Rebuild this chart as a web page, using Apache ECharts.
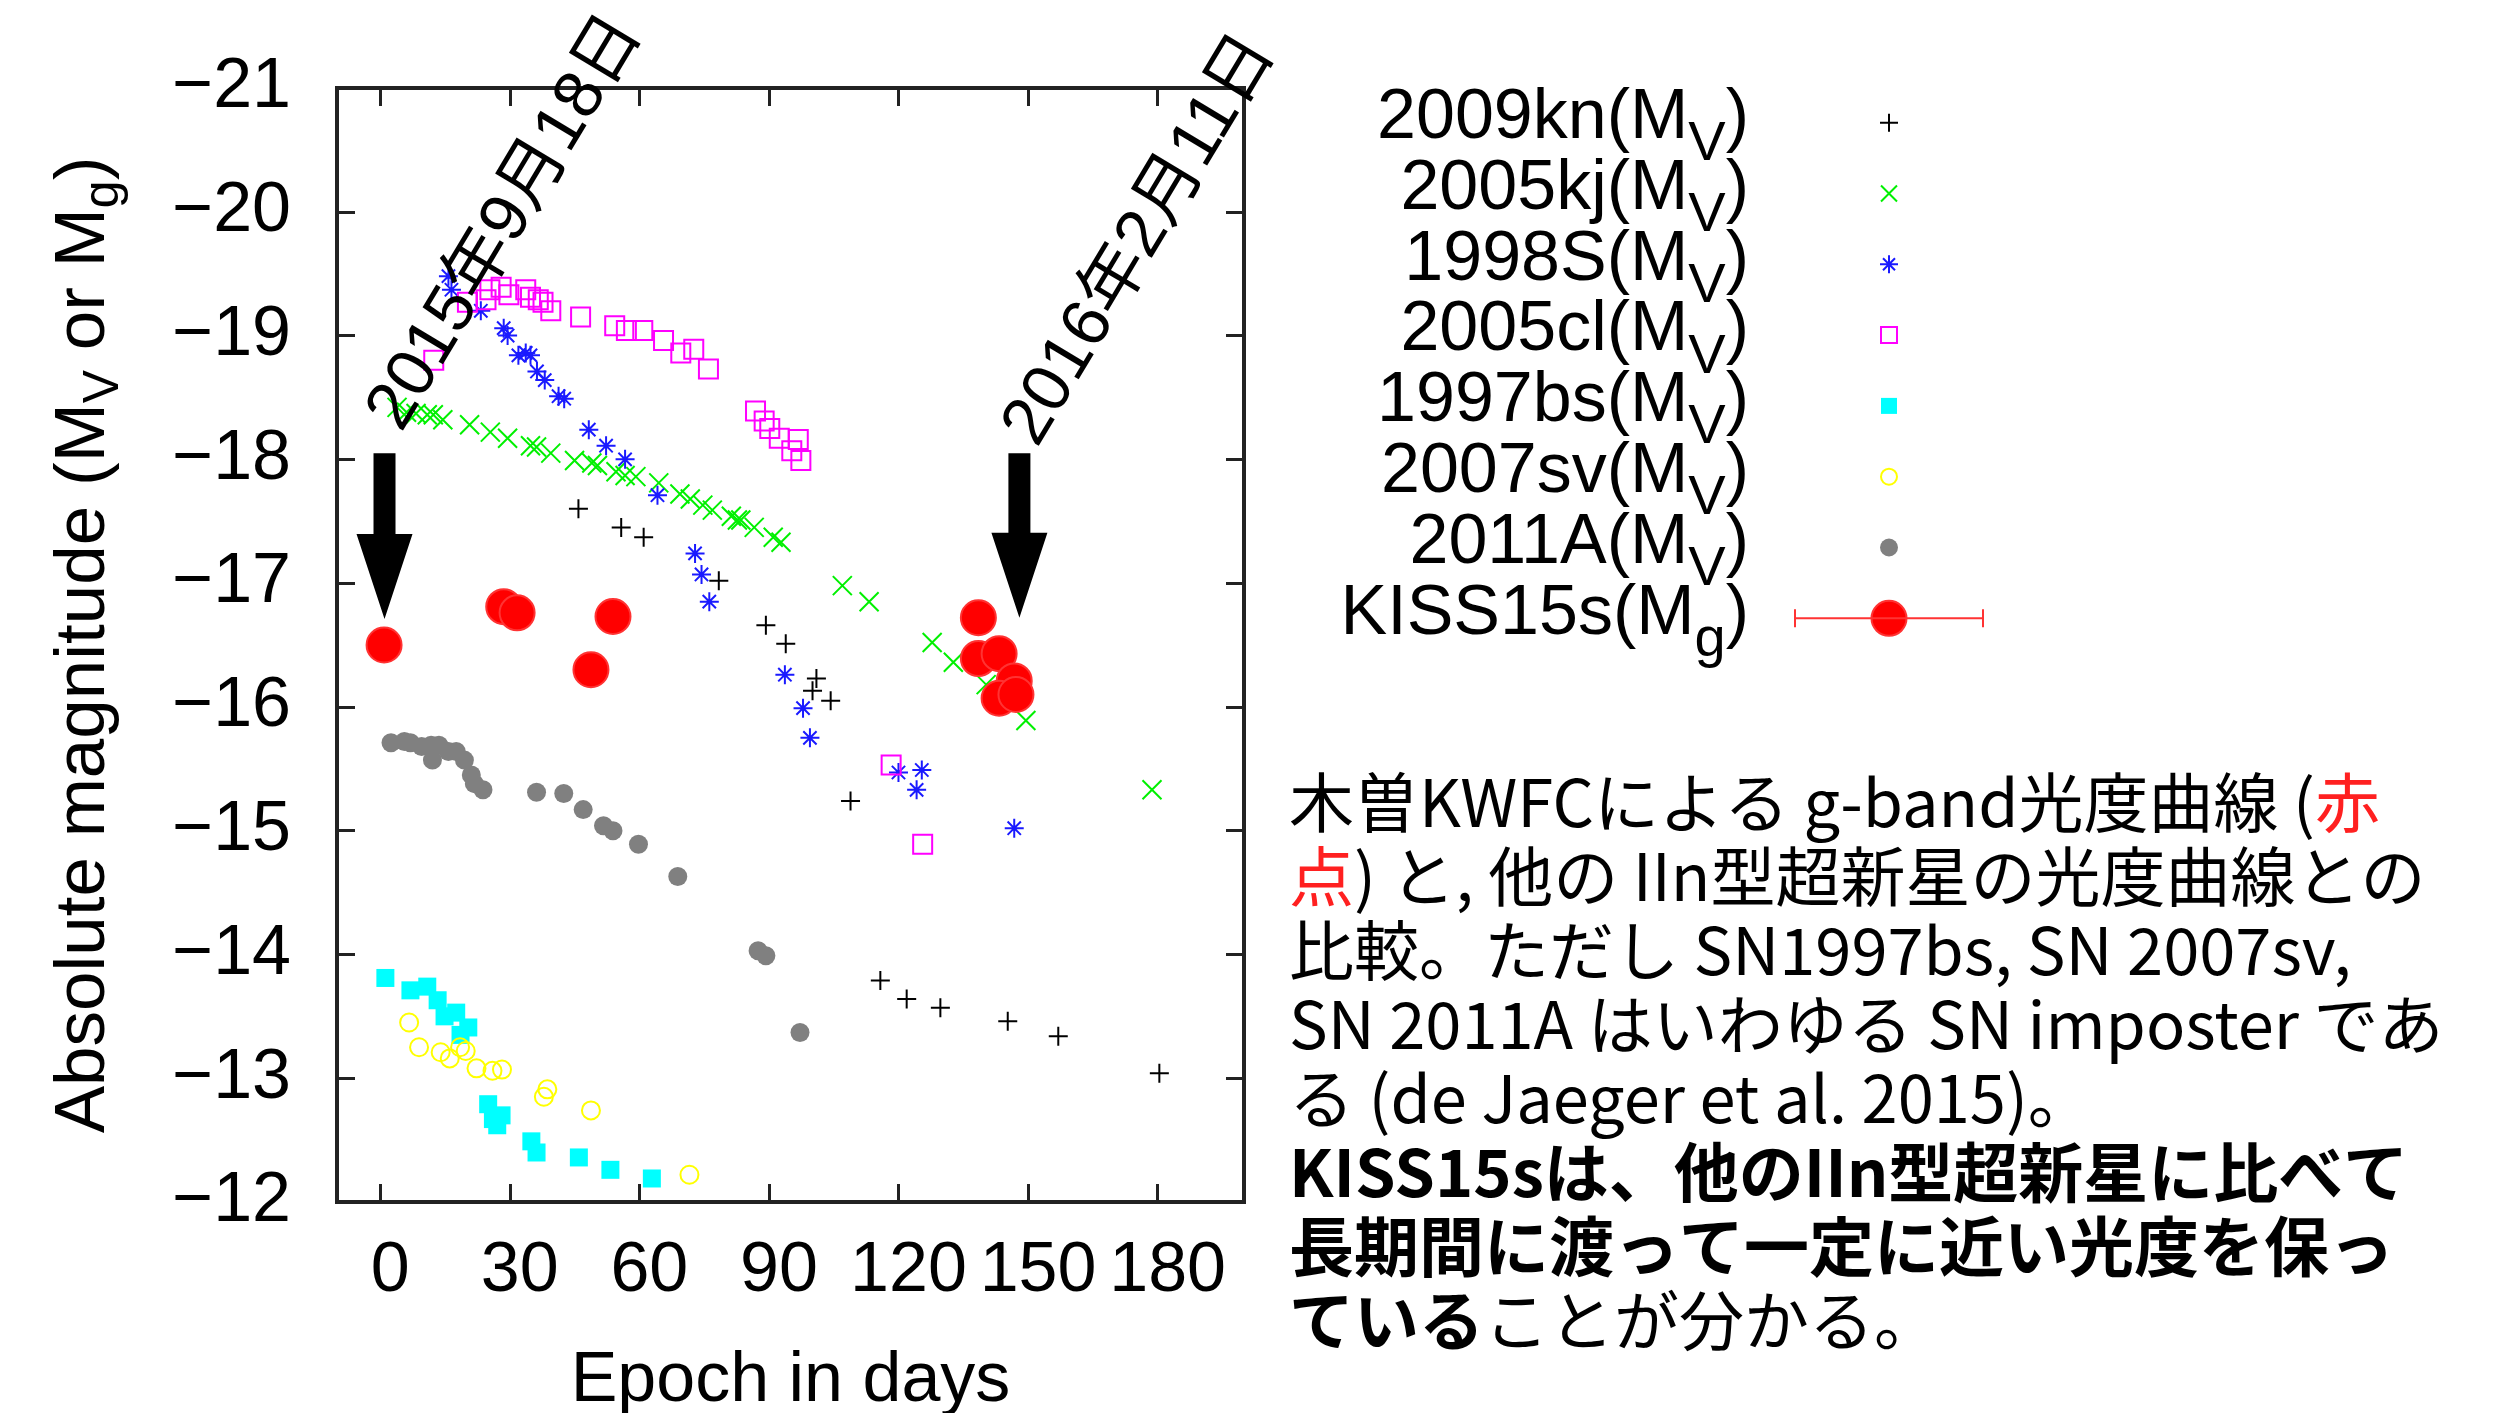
<!DOCTYPE html>
<html><head><meta charset="utf-8">
<script src="https://cdn.jsdelivr.net/npm/echarts@6/dist/echarts.min.js"></script>
<style>html,body{margin:0;padding:0;background:#fff}#c{width:2499px;height:1413px}</style>
</head><body><div id="c"></div>
<script>
// ---------- data (days, absolute magnitude) ----------
const xTicks = [0, 30, 60, 90, 120, 150, 180];

const sn2009kn = [[45.9,-17.60],[55.8,-17.45],[61.0,-17.37],[78.4,-17.02],[89.3,-16.66],[93.9,-16.51],[101.0,-16.23],[100.1,-16.13],[104.3,-16.05],[108.9,-15.24],[115.8,-13.79],[121.9,-13.64],[129.7,-13.57],[145.3,-13.46],[157.0,-13.34],[180.4,-13.04]];

const sn2005kj = [[3.9,-18.42],[6.1,-18.38],[8.3,-18.37],[10.9,-18.36],[12.3,-18.36],[14.5,-18.32],[20.7,-18.28],[25.5,-18.22],[29.5,-18.17],[34.8,-18.11],[36.2,-18.10],[39.5,-18.05],[45.0,-17.99],[49.0,-17.97],[50.3,-17.95],[54.6,-17.90],[56.7,-17.87],[59.2,-17.86],[64.5,-17.81],[69.4,-17.72],[71.8,-17.68],[74.7,-17.63],[76.9,-17.59],[81.3,-17.54],[82.7,-17.51],[83.5,-17.51],[86.6,-17.45],[91.0,-17.37],[92.8,-17.33],[107.0,-16.98],[113.2,-16.85],[127.8,-16.52],[132.7,-16.36],[140.3,-16.18],[149.5,-15.89],[178.7,-15.33]];

const sn1998S = [[15.8,-19.48],[16.5,-19.37],[23.3,-19.20],[28.6,-19.06],[29.5,-19.00],[32.0,-18.84],[33.7,-18.86],[34.8,-18.84],[36.3,-18.71],[38.1,-18.64],[41.3,-18.51],[42.6,-18.49],[48.3,-18.24],[52.3,-18.11],[56.7,-18.00],[64.2,-17.71],[72.9,-17.24],[74.4,-17.07],[76.2,-16.85],[93.7,-16.26],[97.9,-15.99],[99.5,-15.75],[120.0,-15.47],[125.4,-15.49],[124.2,-15.33],[146.8,-15.02]];

const sn2005cl = [[12.4,-18.80],[20.2,-19.27],[24.5,-19.29],[25.4,-19.37],[28.0,-19.39],[29.8,-19.33],[33.7,-19.37],[34.8,-19.31],[36.6,-19.29],[37.7,-19.27],[39.5,-19.20],[46.4,-19.15],[54.3,-19.08],[57.0,-19.04],[60.8,-19.04],[65.6,-18.96],[69.6,-18.86],[72.6,-18.89],[76.0,-18.73],[86.9,-18.39],[88.9,-18.31],[90.2,-18.25],[92.4,-18.17],[95.3,-18.07],[96.8,-18.16],[97.4,-17.99],[118.3,-15.53],[125.6,-14.89]];

const sn1997bs = [[1.2,-13.81],[7.0,-13.71],[10.9,-13.74],[13.3,-13.63],[14.9,-13.50],[17.6,-13.53],[20.4,-13.41],[18.6,-13.35],[25.0,-12.79],[28.1,-12.70],[26.1,-12.67],[27.1,-12.62],[35.0,-12.49],[36.2,-12.40],[46.0,-12.36],[53.3,-12.26],[62.9,-12.19]];

const sn2007sv = [[6.7,-13.45],[9.0,-13.25],[14.0,-13.21],[16.1,-13.16],[18.5,-13.25],[19.8,-13.22],[22.3,-13.08],[26.0,-13.06],[28.2,-13.07],[38.7,-12.91],[37.9,-12.85],[48.8,-12.74],[71.6,-12.22]];

const sn2011A = [[2.5,-15.71],[5.6,-15.72],[7.0,-15.71],[9.6,-15.68],[11.8,-15.69],[12.1,-15.57],[13.6,-15.69],[15.8,-15.64],[17.6,-15.64],[19.5,-15.57],[21.1,-15.45],[21.8,-15.38],[23.8,-15.33],[36.2,-15.31],[42.5,-15.30],[47.0,-15.17],[51.7,-15.04],[53.9,-15.00],[59.8,-14.89],[68.9,-14.63],[87.5,-14.03],[89.3,-13.99],[97.2,-13.37]];

const kiss15s = [[0.9,-16.50],[28.6,-16.81],[31.7,-16.76],[53.9,-16.73],[48.8,-16.30],[138.5,-16.72],[138.5,-16.39],[143.3,-16.43],[146.8,-16.21],[143.3,-16.07],[147.2,-16.10]];

// annotation arrows (day, top mag, tip mag) and date labels
const arrowDays = [1.0, 148.0];
const arrowTop = [-18.05, -18.05];
const arrowTip = [-16.71, -16.72];
const dateLabels = ['2015年9月18日', '2016年2月11日'];
const labelDays = [29.1, 176.0];
const labelMags = [-19.91, -19.77];

const seriesNames = ['2009kn', '2005kj', '1998S', '2005cl', '1997bs', '2007sv', '2011A', 'KISS15s'];
const seriesBands = ['V', 'V', 'V', 'V', 'V', 'V', 'V', 'g'];

const noteLines = [
  '{n|木曽KWFCによる g-band光度曲線 (}{r|赤}',
  '{r|点}{n|) と, 他の IIn型超新星の光度曲線との}',
  '{n|比較。ただし SN1997bs, SN 2007sv,}',
  '{n|SN 2011A はいわゆる SN imposter であ}',
  '{n|る (de Jaeger et al. 2015)。}',
  '{b|KISS15sは、他のIIn型超新星に比べて}',
  '{b|長期間に渡って一定に近い光度を保っ}',
  '{b|ている}{n|ことが分かる。}'
];

// ---------- styles ----------
const FONT = '"Liberation Sans", Arial, sans-serif';
const SYM = {
  plus: 'path://M0,5L10,5M5,0L5,10',
  cross: 'path://M0,0L10,10M0,10L10,0',
  star: 'path://M0,5L10,5M5,0L5,10M1.5,1.5L8.5,8.5M1.5,8.5L8.5,1.5',
  square: 'path://M0,0L10,0L10,10L0,10Z'
};
const LEG = {
  plus: 'path://M0,0M36,36M9,18L27,18M18,9L18,27',
  cross: 'path://M0,0M36,36M10,10L26,26M10,26L26,10',
  star: 'path://M0,0M36,36M9,18L27,18M18,9L18,27M12,12L24,24M12,24L24,12',
  square: 'path://M0,0M36,36M10,10L26,10L26,26L10,26Z',
  fsquare: 'path://M0,0M36,36M10,10L26,10L26,26L10,26Z',
  circle: 'path://M0,0M36,36M26,18A8,8,0,1,1,10,18A8,8,0,1,1,26,18Z',
  dot: 'path://M0,0M36,36M27,18A9,9,0,1,1,9,18A9,9,0,1,1,27,18Z',
  errdot: 'path://M0,0M190,36M1,9L1,27M1,18L189,18M189,9L189,27M112.5,18A17.5,17.5,0,1,1,77.5,18A17.5,17.5,0,1,1,112.5,18Z'
};
const T = 'rgba(0,0,0,0)';
const styles = [
  {color: T, borderColor: '#000000', borderWidth: 2},
  {color: T, borderColor: '#00f000', borderWidth: 2},
  {color: T, borderColor: '#1a1aff', borderWidth: 2},
  {color: T, borderColor: '#ff00ff', borderWidth: 2},
  {color: '#00ffff', borderWidth: 0},
  {color: T, borderColor: '#ffff00', borderWidth: 2},
  {color: '#808080', borderWidth: 0},
  {color: '#ff0000', borderColor: '#ff3333', borderWidth: 2}
];
const seriesData = [sn2009kn, sn2005kj, sn1998S, sn2005cl, sn1997bs, sn2007sv, sn2011A, kiss15s];
const seriesSym = [SYM.plus, SYM.cross, SYM.star, SYM.square, 'rect', 'circle', 'circle', 'circle'];
const seriesSize = [19, 19, 19, 19, 18, 18, 19, 35];
const legendIcons = [LEG.plus, LEG.cross, LEG.star, LEG.square, LEG.fsquare, LEG.circle, LEG.dot, LEG.errdot];

const series = seriesNames.map((n, i) => ({
  type: 'scatter', name: n, data: seriesData[i], symbol: seriesSym[i], symbolSize: seriesSize[i],
  itemStyle: Object.assign({opacity: 1}, styles[i]), silent: true, animation: false,
  emphasis: {disabled: true}
}));

series.push({
  type: 'custom', coordinateSystem: 'cartesian2d', clip: false, silent: true, z: 10, animation: false,
  data: arrowDays.map((d, i) => [d, arrowTop[i], arrowTip[i], labelDays[i], labelMags[i], i]),
  renderItem: function (params, api) {
    const top = api.coord([api.value(0), api.value(1)]);
    const tip = api.coord([api.value(0), api.value(2)]);
    const lab = api.coord([api.value(3), api.value(4)]);
    const headH = 85, headW = 56, shaftW = 22;
    const baseY = tip[1] - headH;
    const cx = top[0];
    return {
      type: 'group', children: [
        {type: 'polygon', shape: {points: [[cx - shaftW / 2, top[1]], [cx + shaftW / 2, top[1]], [cx + shaftW / 2, baseY], [cx + headW / 2, baseY], [tip[0], tip[1]], [cx - headW / 2, baseY], [cx - shaftW / 2, baseY]]}, style: {fill: '#000'}},
        {type: 'text', x: lab[0], y: lab[1], rotation: 59 * Math.PI / 180,
         style: {text: dateLabels[api.value(5)], font: '68px "Liberation Sans", "Noto Sans CJK JP"', fill: '#000', align: 'center', verticalAlign: 'middle'}}
      ]
    };
  }
});

const axisLineStyle = {color: '#222', width: 4};
const tickStyle = {color: '#222', width: 3};

const option = {
  animation: false,
  backgroundColor: '#fff',
  grid: {left: 337, top: 88, width: 907, height: 1114, show: true, borderColor: '#222', borderWidth: 4, backgroundColor: 'transparent', containLabel: false, outerBoundsMode: 'none'},
  xAxis: [
    {type: 'value', min: -10, max: 200, position: 'bottom',
     axisLine: {show: true, onZero: false, lineStyle: axisLineStyle},
     axisTick: {show: true, inside: true, length: 18, lineStyle: tickStyle, customValues: xTicks},
     axisLabel: {show: true, customValues: xTicks, fontFamily: FONT, fontSize: 70, color: '#000', margin: 35, padding: [0, 0, 0, 20]},
     splitLine: {show: false},
     name: 'Epoch in days', nameLocation: 'middle', nameGap: 145, nameMoveOverlap: false,
     nameTextStyle: {fontFamily: FONT, fontSize: 70, color: '#000'}},
    {type: 'value', min: -10, max: 200, position: 'top',
     axisLine: {show: true, onZero: false, lineStyle: axisLineStyle},
     axisTick: {show: true, inside: true, length: 18, lineStyle: tickStyle, customValues: xTicks},
     axisLabel: {show: false}, splitLine: {show: false}}
  ],
  yAxis: [
    {type: 'value', min: -21, max: -12, interval: 1, inverse: true, position: 'left',
     axisLine: {show: true, onZero: false, lineStyle: axisLineStyle},
     axisTick: {show: true, inside: true, length: 18, lineStyle: tickStyle},
     axisLabel: {show: true, fontFamily: FONT, fontSize: 70, color: '#000', margin: 46,
                 formatter: v => (v < 0 ? '\u2212' : '') + Math.abs(v)},
     splitLine: {show: false},
     name: '{m|Absolute magnitude (M}{s|V}{m| or M}{s|g}{m|)}', nameLocation: 'middle', nameGap: 218, nameRotate: 90, nameMoveOverlap: false,
     nameTextStyle: {fontFamily: FONT, fontSize: 71, color: '#000',
       rich: {m: {fontFamily: FONT, fontSize: 71, lineHeight: 70, color: '#000'},
              s: {fontFamily: FONT, fontSize: 50, lineHeight: 70, color: '#000', padding: [40, 0, 0, 0]}}}},
    {type: 'value', min: -21, max: -12, interval: 1, inverse: true, position: 'right',
     axisLine: {show: true, onZero: false, lineStyle: axisLineStyle},
     axisTick: {show: true, inside: true, length: 18, lineStyle: tickStyle},
     axisLabel: {show: false}, splitLine: {show: false}}
  ],
  legend: {
    orient: 'vertical', right: 514, top: 72.7, align: 'right', padding: 0,
    itemWidth: 190, itemHeight: 36, itemGap: -29.2, selectedMode: false, symbolKeepAspect: true,
    formatter: function (name) {
      const b = seriesBands[seriesNames.indexOf(name)];
      return '{m|' + name + '(M}{s|' + b + '}{m|)}{gap| }';
    },
    textStyle: {fontFamily: FONT, fontSize: 70, color: '#000',
      rich: {m: {fontFamily: FONT, fontSize: 70, lineHeight: 70, color: '#000', padding: [0, 0, 8, 0]},
             s: {fontFamily: FONT, fontSize: 56, lineHeight: 70, color: '#000', padding: [44, 0, 0, 0]},
             gap: {width: 40, lineHeight: 70, fontSize: 20}}},
    data: seriesNames.map((n, i) => ({name: n, icon: legendIcons[i], itemStyle: Object.assign({}, styles[i])}))
  },
  graphic: [{
    type: 'text', left: 1289, top: 765, silent: true,
    style: {
      text: noteLines.join('\n'),
      font: '65px "Noto Sans CJK JP"', lineHeight: 74, fill: '#000',
      rich: {
        n: {fontFamily: '"Noto Sans CJK JP"', fontSize: 65, lineHeight: 74, fill: '#000'},
        r: {fontFamily: '"Noto Sans CJK JP"', fontSize: 65, lineHeight: 74, fill: '#ff2020'},
        b: {fontFamily: '"Noto Sans CJK JP"', fontSize: 65, fontWeight: 'bold', lineHeight: 74, fill: '#000'}
      }
    }
  }],
  series: series
};

const chart = echarts.init(document.getElementById('c'), null, {renderer: 'canvas'});
chart.setOption(option);
</script>
</body></html>
